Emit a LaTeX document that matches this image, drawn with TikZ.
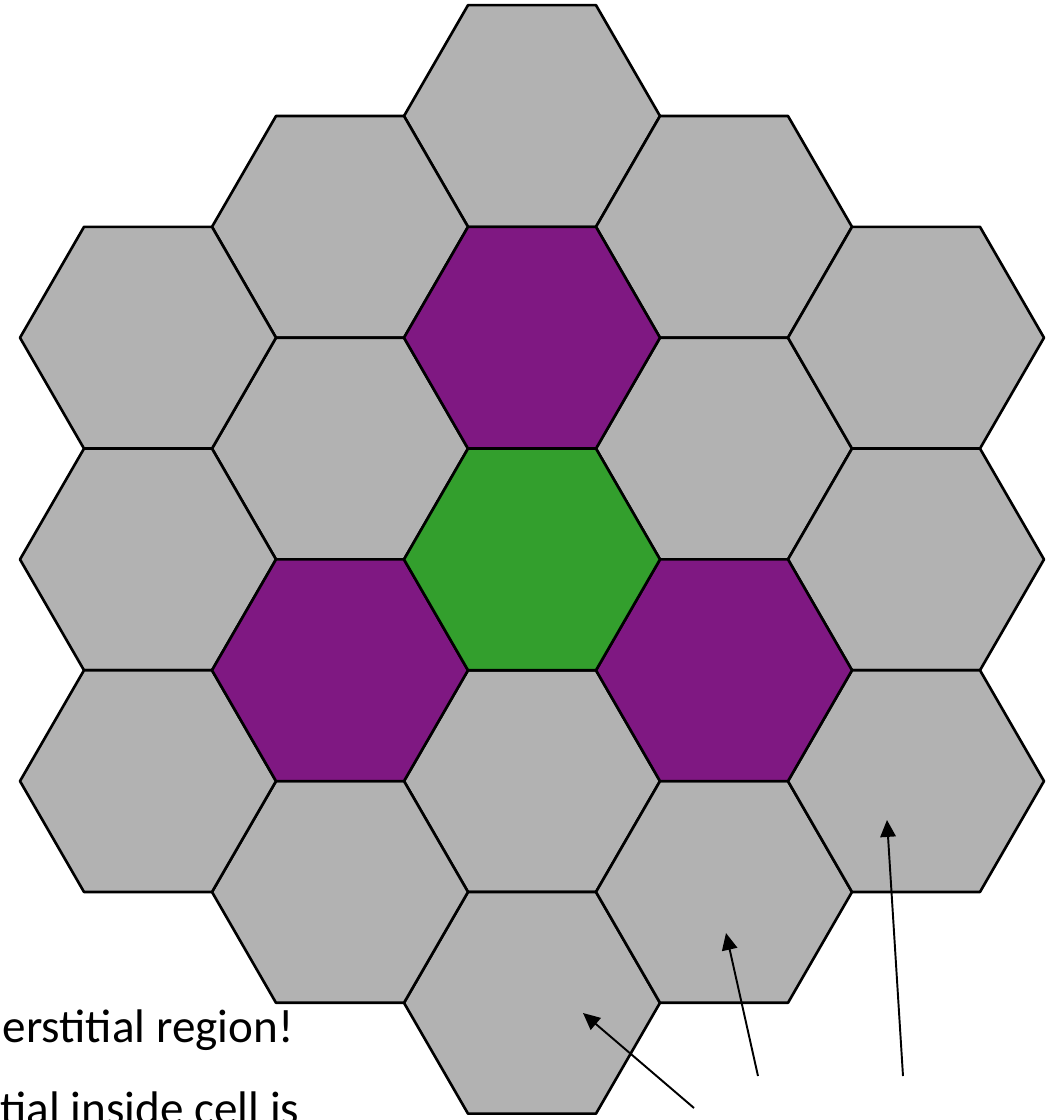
\documentclass[tikz,border=0pt]{standalone}
\usepackage{fontspec}
\setmainfont{Carlito}
\usepackage{tikz}
\usetikzlibrary{arrows.meta}
\definecolor{cellgray}{RGB}{178,178,178}
\definecolor{cellpurple}{RGB}{127,24,130}
\definecolor{cellgreen}{RGB}{51,159,45}
% one flat-topped cell: #1 column, #2 row in that column, #3 style
\newcommand{\hexcell}[3]{%
  \pgfmathsetmacro{\hx}{532+192*#1}%
  \pgfmathsetmacro{\hy}{116+110.85*abs(#1)+221.7*#2}%
  \draw[cell,#3] (\hx+128,\hy) -- ++(-64,-110.85) -- ++(-128,0)
    -- ++(-64,110.85) -- ++(64,110.85) -- ++(128,0) -- cycle;}

\begin{document}
\begin{tikzpicture}[
  x=0.01cm, y=-0.01cm,
  cell/.style={draw=black,line width=0.75pt,line join=round},
  grey/.style={fill=cellgray},
  shell/.style={fill=cellpurple},
  centre/.style={fill=cellgreen},
  arr/.style={-{Triangle[length=4.8pt,width=4.4pt]},line width=0.55pt},
  txt/.style={font=\fontsize{13.4}{16}\selectfont,inner sep=0pt,anchor=base west}
]

% Frame
\clip (0,0) rectangle (1050,1120);
\useasboundingbox (0,0) rectangle (1050,1120);

% ---- Outer cells ----
\foreach \k/\j in {0/0,0/3,0/4,-1/0,-1/1,-1/3,1/0,1/1,1/3,
                   -2/0,-2/1,-2/2,2/0,2/1,2/2}
  {\hexcell{\k}{\j}{grey}}

% ---- Nearest neighbours ----
\hexcell{0}{1}{shell}
\hexcell{-1}{2}{shell}
\hexcell{1}{2}{shell}

% ---- Centre cell ----
\hexcell{0}{2}{centre}

% Text
\node[txt] (lineone) at (2,1042) {erstitial region!};
\node[txt] (linetwo) at (0,1124) {tial inside cell is};

% Pointers
\coordinate (tailA) at (694,1108);
\coordinate (tailB) at (758,1076);
\coordinate (tailC) at (903,1076);
\coordinate (tipA)  at (583,1013);
\coordinate (tipB)  at (726,933);
\coordinate (tipC)  at (887,820);
\draw[arr] (tailA) -- (tipA);
\draw[arr] (tailB) -- (tipB);
\draw[arr] (tailC) -- (tipC);

\end{tikzpicture}
\end{document}
